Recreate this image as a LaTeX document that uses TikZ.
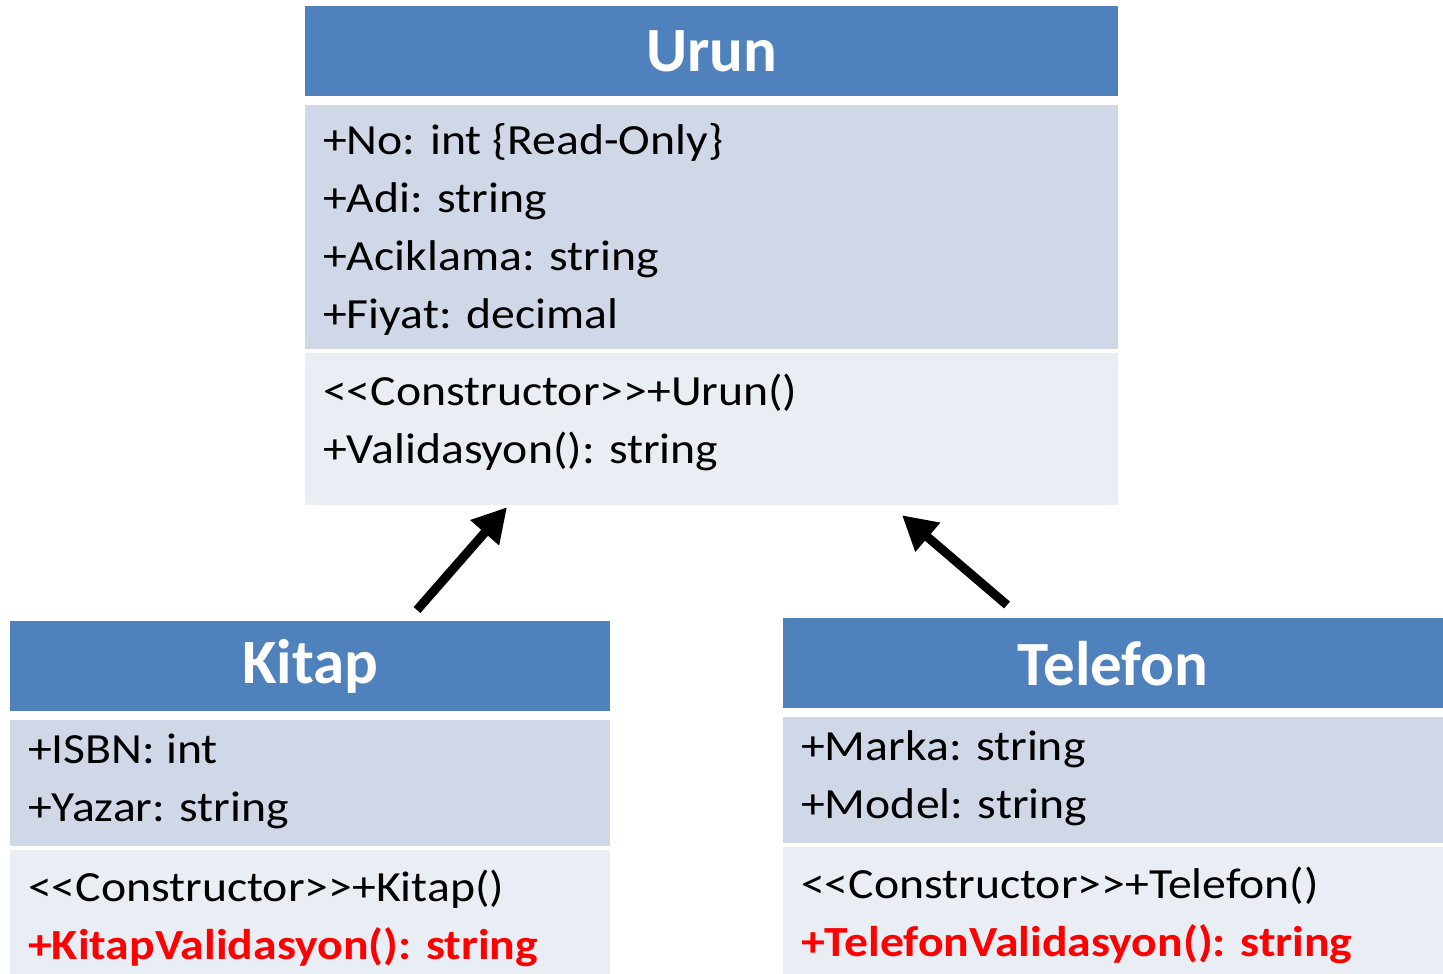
\documentclass[tikz,border=0pt]{standalone}
\usepackage{fontspec}
\setmainfont{Carlito}
\newfontfamily\bodyfont[FakeStretch=1.11]{Carlito}
\usepackage{xcolor}
\usetikzlibrary{positioning,arrows.meta,calc}

\definecolor{hdrblue}{HTML}{4F81BD}
\definecolor{attrfill}{HTML}{D0D8E8}
\definecolor{methfill}{HTML}{E9EDF4}
\definecolor{valred}{HTML}{FF0000}

% compartment body: width, height, top pad, rows
\newcommand{\compart}[4]{%
  \parbox[t][#2][t]{#1}{\vspace*{#3}\raggedright #4}}
\newcommand{\umlrow}[1]{\strut #1\par}
\newcommand{\umlred}[1]{\strut{\bfseries\color{valred}#1}\par}
\newcommand{\ctor}{<{}<Constructor>{}>}

\begin{document}
\begin{tikzpicture}[
  x=1pt, y=-1pt,
  clshead/.style={fill=hdrblue, text=white, minimum height=90pt,
                  inner sep=0pt, anchor=north west,
                  font=\fontsize{63}{70}\selectfont\bfseries},
  clsattr/.style={fill=attrfill, inner xsep=18pt, inner ysep=0pt,
                  font=\bodyfont\fontsize{43}{58}\selectfont},
  clsmeth/.style={fill=methfill, inner xsep=18pt, inner ysep=0pt,
                  font=\bodyfont\fontsize{43}{58}\selectfont},
  inherit/.style={line width=9pt, -{Triangle[length=34pt,width=36pt]}},
]
  \useasboundingbox (0,0) rectangle (1443,974);

  %% Urun (base class)
  \node[clshead, minimum width=813pt] (urun-t) at (305,6) {Urun};
  \node[clsattr, below=8pt of urun-t] (urun-a)
    {\compart{777pt}{244pt}{9.6pt}{%
      \umlrow{+No: int \{Read-Only\}}
      \umlrow{+Adi: string}
      \umlrow{+Aciklama: string}
      \umlrow{+Fiyat: decimal}}};
  \node[clsmeth, below=4pt of urun-a] (urun-m)
    {\compart{777pt}{152pt}{12pt}{%
      \umlrow{\ctor+Urun()}
      \umlrow{+Validasyon(): string}}};

  %% Kitap
  \node[clshead, minimum width=600pt] (kitap-t) at (10,621) {Kitap};
  \node[clsattr, below=8pt of kitap-t] (kitap-a)
    {\compart{564pt}{126pt}{2.8pt}{%
      \umlrow{+ISBN: int}
      \umlrow{+Yazar: string}}};
  \node[clsmeth, below=4pt of kitap-a] (kitap-m)
    {\compart{564pt}{125pt}{10.4pt}{%
      \umlrow{\ctor+Kitap()}
      \umlred{+KitapValidasyon(): string}}};

  %% Telefon
  \node[clshead, minimum width=660pt] (tel-t) at (783,618) {Telefon};
  \node[clsattr, below=8pt of tel-t] (tel-a)
    {\compart{624pt}{126pt}{3pt}{%
      \umlrow{+Marka: string}
      \umlrow{+Model: string}}};
  \node[clsmeth, below=4pt of tel-a] (tel-m)
    {\compart{624pt}{128pt}{10.4pt}{%
      \umlrow{\ctor+Telefon()}
      \umlred{+TelefonValidasyon(): string}}};

  %% inheritance arrows
  \coordinate (k-tail) at ($(kitap-t.north west)+(407,-11)$);
  \coordinate (k-tip)  at ($(urun-m.south west)+(202,2)$);
  \coordinate (t-tail) at ($(tel-t.north west)+(224,-13)$);
  \coordinate (t-tip)  at ($(urun-m.south west)+(597,10)$);
  \draw[inherit] (k-tail) -- (k-tip);
  \draw[inherit] (t-tail) -- (t-tip);
\end{tikzpicture}
\end{document}
